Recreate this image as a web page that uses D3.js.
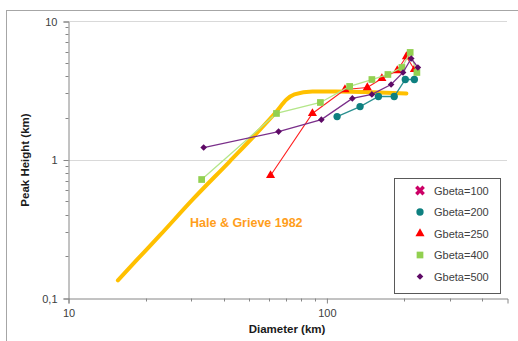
<!DOCTYPE html>
<html>
<head>
<meta charset="UTF-8">
<title>Peak height vs diameter</title>
<script src="https://cdn.jsdelivr.net/npm/d3@7/dist/d3.min.js"></script>
<style>
  body { margin: 0; background: #fff; }
  text { font-family: "Liberation Sans", Arial, sans-serif; }
</style>
</head>
<body>
<div id="chart"></div>
<script>
// Hale & Grieve 1982 reference curve (diameter km, peak height km)
var haleD = [15.6, 18.5, 22.7, 30.4, 42.2, 55.0, 64.1, 70.1, 75.2, 88.3, 109, 160, 204];
var haleH = [0.134, 0.189, 0.284, 0.515, 0.967, 1.62, 2.22, 2.71, 2.95, 3.10, 3.10, 3.05, 3.00];

// model runs
var g100D = [];
var g100H = [];
var g200D = [110, 135, 159, 183, 202, 219];
var g200H = [2.04, 2.41, 2.85, 2.85, 3.78, 3.78];
var g250D = [60.8, 88.3, 118, 144, 164, 188, 204, 219];
var g250H = [0.767, 2.15, 3.20, 3.31, 3.85, 4.39, 5.54, 4.47];
var g400D = [32.9, 64.1, 94.8, 123, 150, 173, 196, 211, 224];
var g400H = [0.717, 2.15, 2.58, 3.37, 3.78, 4.11, 4.62, 5.93, 4.25];
var g500D = [33.5, 65.3, 95.6, 126, 150, 178, 198, 213, 226];
var g500H = [1.22, 1.59, 1.94, 2.76, 2.95, 3.48, 4.25, 5.36, 4.62];

var seriesNames = ["Gbeta=100", "Gbeta=200", "Gbeta=250", "Gbeta=400", "Gbeta=500"];
var yTickLabels = ["0,1", "1", "10"];
var xTickLabels = ["10", "100"];

var width = 518, height = 341;

var series = [
  {name: seriesNames[0], d: g100D, h: g100H, line: "#cc0066", fill: "#cc0066", sym: d3.symbolCross, size: 60, rot: 45, lw: 1.2},
  {name: seriesNames[1], d: g200D, h: g200H, line: "#2a9090", fill: "#0e8080", sym: d3.symbolCircle, size: 42, rot: 0, lw: 1.3},
  {name: seriesNames[2], d: g250D, h: g250H, line: "#ff2020", fill: "#ff0000", sym: d3.symbolTriangle, size: 36, rot: 0, lw: 1.1},
  {name: seriesNames[3], d: g400D, h: g400H, line: "#b4e68a", fill: "#92d050", sym: d3.symbolSquare, size: 45, rot: 0, lw: 1.3},
  {name: seriesNames[4], d: g500D, h: g500H, line: "#7a2f8a", fill: "#5e0a66", sym: d3.symbolSquare, size: 22, rot: 45, lw: 1.3}
];

var svg = d3.select("#chart").append("svg")
  .attr("width", width)
  .attr("height", height);

// outer chart border
svg.append("rect")
  .attr("x", 6.5).attr("y", 10.5)
  .attr("width", 520).attr("height", 340)
  .attr("fill", "none").attr("stroke", "#a6a6a6");

var x = d3.scaleLog().domain([10, 500]).range([68, 507]);
var y = d3.scaleLog().domain([0.1, 10]).range([298, 21]);

// gridlines
svg.selectAll(".grid").data([1, 10]).enter().append("line")
  .attr("x1", x(10)).attr("x2", x(500))
  .attr("y1", function(d){ return Math.round(y(d)) + 0.5; })
  .attr("y2", function(d){ return Math.round(y(d)) + 0.5; })
  .attr("stroke", "#d9d9d9").attr("stroke-width", 1);

// y axis
var yMinor = [];
[0.1, 1].forEach(function(b){ for (var k = 2; k <= 9; k++) yMinor.push(b * k); });
var yAxis = d3.axisLeft(y)
  .tickValues([0.1, 1, 10])
  .tickFormat(function(d, i){ return yTickLabels[i]; })
  .tickSize(5).tickPadding(6);
var gy = svg.append("g").attr("transform", "translate(" + (x(10) + 0.5) + ",0.5)").call(yAxis);
gy.selectAll(".tick line").attr("stroke", "#868686");
gy.select(".domain").attr("stroke", "#868686");
gy.selectAll("text").attr("fill", "#404040").style("font-size", "11px");
gy.selectAll(".minor").data(yMinor).enter().append("line")
  .attr("x1", -3).attr("x2", 0)
  .attr("y1", function(d){ return Math.round(y(d)); })
  .attr("y2", function(d){ return Math.round(y(d)); })
  .attr("stroke", "#868686");

// x axis
var xMinor = [20, 30, 40, 50, 60, 70, 80, 90, 200, 300, 400];
var xAxis = d3.axisBottom(x)
  .tickValues([10, 100])
  .tickFormat(function(d, i){ return xTickLabels[i]; })
  .tickSize(5).tickPadding(6);
var gx = svg.append("g").attr("transform", "translate(0.5," + (y(0.1) + 0.5) + ")").call(xAxis);
gx.selectAll(".tick line").attr("stroke", "#868686");
gx.select(".domain").attr("stroke", "#868686");
gx.selectAll("text").attr("fill", "#404040").style("font-size", "11px");
gx.selectAll(".minor").data(xMinor).enter().append("line")
  .attr("x1", function(d){ return Math.round(x(d)); })
  .attr("x2", function(d){ return Math.round(x(d)); })
  .attr("y1", 0).attr("y2", 3)
  .attr("stroke", "#868686");

// axis titles
svg.append("text")
  .attr("x", 287).attr("y", 333)
  .attr("text-anchor", "middle")
  .attr("font-weight", "bold").attr("font-size", "11.5px").attr("fill", "#1a1a1a")
  .text("Diameter (km)");
svg.append("text")
  .attr("transform", "translate(29,160) rotate(-90)")
  .attr("text-anchor", "middle")
  .attr("font-weight", "bold").attr("font-size", "11.5px").attr("fill", "#1a1a1a")
  .text("Peak Height (km)");

// Hale & Grieve curve
var line = d3.line()
  .x(function(p){ return x(p[0]); })
  .y(function(p){ return y(p[1]); })
  .curve(d3.curveMonotoneX);
svg.append("path")
  .datum(d3.zip(haleD, haleH))
  .attr("d", line)
  .attr("fill", "none")
  .attr("stroke", "#ffc000")
  .attr("stroke-width", 4)
  .attr("stroke-linecap", "round");

svg.append("text")
  .attr("x", 190).attr("y", 227)
  .attr("font-weight", "bold").attr("font-size", "12.5px")
  .attr("fill", "#ff9e1b")
  .text("Hale & Grieve 1982");

// series lines and markers
var straight = d3.line()
  .x(function(p){ return x(p[0]); })
  .y(function(p){ return y(p[1]); });

function symPath(s) {
  return d3.symbol().type(s.sym).size(s.size)();
}

series.forEach(function(s){
  var pts = d3.zip(s.d, s.h);
  if (!pts.length) return;
  svg.append("path")
    .datum(pts)
    .attr("d", straight)
    .attr("fill", "none")
    .attr("stroke", s.line)
    .attr("stroke-width", s.lw);
  svg.selectAll(null).data(pts).enter().append("path")
    .attr("transform", function(p){ return "translate(" + x(p[0]) + "," + y(p[1]) + ") rotate(" + s.rot + ")"; })
    .attr("d", symPath(s))
    .attr("fill", s.fill);
});

// legend
var lg = svg.append("g").attr("transform", "translate(394,178)");
lg.append("rect")
  .attr("x", 0.5).attr("y", 0.5)
  .attr("width", 106).attr("height", 115)
  .attr("fill", "#fff").attr("stroke", "#595959");
var rows = lg.selectAll(".row").data(series).enter().append("g")
  .attr("transform", function(s, i){ return "translate(0," + (12.5 + i * 21.5) + ")"; });
rows.append("path")
  .attr("transform", function(s){ return "translate(26,0) rotate(" + s.rot + ")"; })
  .attr("d", symPath)
  .attr("fill", function(s){ return s.fill; });
rows.append("text")
  .attr("x", 40).attr("y", 4)
  .attr("font-size", "11px").attr("fill", "#404040")
  .text(function(s){ return s.name; });
</script>
</body>
</html>
